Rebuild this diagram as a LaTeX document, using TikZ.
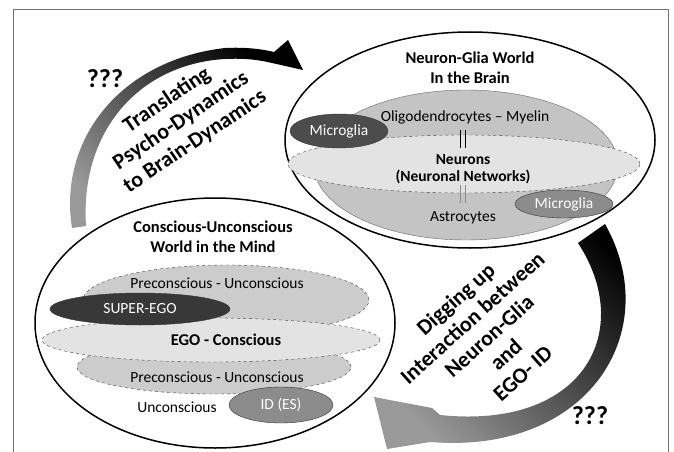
\documentclass[tikz,border=0pt]{standalone}
\usepackage{fontspec}
\setmainfont{Carlito}
\usetikzlibrary{positioning,shapes.geometric}

\tikzset{
  world/.style = {ellipse, draw, line width=1.5pt, inner sep=0pt},
  layer/.style = {ellipse, draw=black!75, dashed, inner sep=0pt},
  glia/.style  = {ellipse, draw=black!80, text=white, inner sep=0pt, font=\fontsize{15.5}{18}\selectfont},
  head/.style  = {font=\bfseries\fontsize{16.5}{20}\selectfont, align=center},
  lbl/.style   = {font=\fontsize{15.5}{18}\selectfont},
  turn/.style  = {font=\bfseries\fontsize{22}{25}\selectfont, align=center},
  ask/.style   = {font=\bfseries\fontsize{26}{30}\selectfont}
}

\begin{document}
\begin{tikzpicture}[x=1pt, y=-1pt]
  \useasboundingbox (0,0) rectangle (674,452);
  \draw[black!55, line width=0.8pt] (13,452) |- (668,9) -- (668,452);

  % brain side
  \node[world, minimum width=370pt, minimum height=216pt] (brain) at (470,140) {};
  \node[layer, solid, draw=black!60, fill=black!23, minimum width=304pt, minimum height=150pt] (gliaBody) at (466,165) {};
  \node[layer, fill=black!11, minimum width=352pt, minimum height=58pt] (neurons) at (464,164) {};
  \node[glia, fill=black!70, minimum width=98pt, minimum height=34pt] (microL) at (339,131) {Microglia};
  \node[glia, fill=black!45, minimum width=98pt, minimum height=28pt] (microR) at (564,204) {Microglia};
  \node[head] (brainT) at (470,68) {Neuron-Glia World\\In the Brain};
  \node[lbl] (oligo) at (465,117) {Oligodendrocytes -- Myelin};
  \node[head, font=\bfseries\fontsize{15.5}{17.5}\selectfont] (neuronT) at (463,169) {Neurons\\(Neuronal Networks)};
  \node[lbl] (astro) at (463,218) {Astrocytes};
  \draw[line width=0.9pt] (460,130) -- (460,148) (465,130) -- (465,148);
  \draw[line width=0.9pt, black!45] (460,185) -- (460,203) (465,185) -- (465,203);

  % mind side
  \node[world, minimum width=360pt, minimum height=250pt] (mind) at (215,323) {};
  \node[layer, fill=black!20, minimum width=286pt, minimum height=70pt] (preUp) at (226,300) {};
  \node[layer, fill=black!20, minimum width=274pt, minimum height=54pt] (preLow) at (214,367) {};
  \node[layer, fill=black!11, minimum width=338pt, minimum height=44pt] (ego) at (211,340) {};
  \node[glia, fill=black!78, minimum width=180pt, minimum height=32pt] (superego) at (140,309) {SUPER-EGO};
  \node[glia, fill=black!45, minimum width=104pt, minimum height=36pt] (id) at (281,405) {ID (ES)};
  \node[head] (mindT) at (213,237) {Conscious-Unconscious\\World in the Mind};
  \node[lbl] (preUpT) at (217,283) {Preconscious - Unconscious};
  \node[head] (egoT) at (226,340) {EGO - Conscious};
  \node[lbl] (preLowT) at (217,377) {Preconscious - Unconscious};
  \node[lbl] (uncon) at (177,407) {Unconscious};

  % arrows
  \shade[top color=black, middle color=black!75, bottom color=black!40, shading angle=-45]
    (72,228) .. controls (58,140) and (120,60) .. (225,48)
    .. controls (245,47) and (262,49) .. (274,52) -- (288,40) -- (303,70)
    -- (272,63) .. controls (260,60) and (245,58) .. (225,59)
    .. controls (140,64) and (80,130) .. (86,226) -- cycle;
  \shade[top color=black, middle color=black!80, bottom color=black!40, shading angle=-45]
    (605,224) .. controls (665,330) and (590,455) .. (430,442) -- (387,449) -- (374,397)
    -- (432,408) -- (440,415) .. controls (585,430) and (635,330) .. (578,243) -- cycle;

  \node[turn, rotate=34] (translate) at (181,121) {Translating\\Psycho-Dynamics\\to Brain-Dynamics};
  \node[turn, rotate=42] (digging) at (489,336) {Digging up\\Interaction between\\Neuron-Glia\\and\\EGO- ID};
  \node[ask] (askTop) at (105,79) {???};
  \node[ask] (askBot) at (590,416) {???};
\end{tikzpicture}
\end{document}
